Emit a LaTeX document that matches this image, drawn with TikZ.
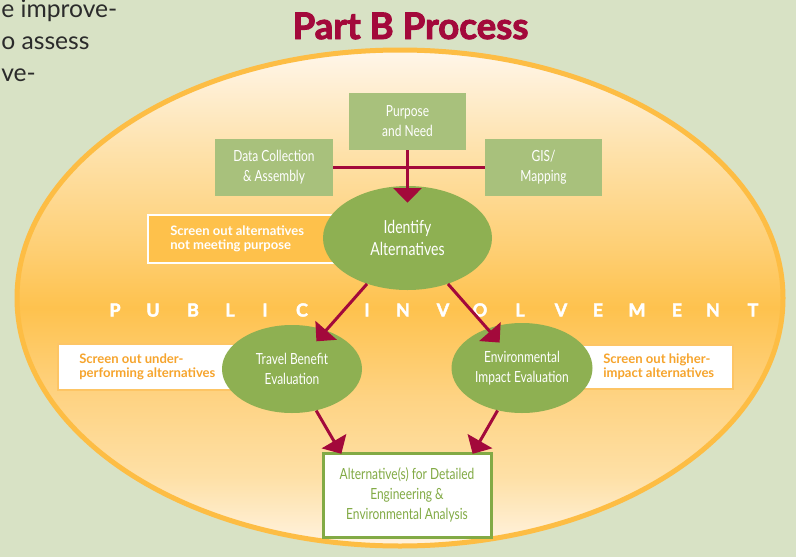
\documentclass[tikz,border=0pt]{standalone}
\usepackage{fontspec}
\setmainfont{Lato}
\newfontfamily\condfont[FakeStretch=0.78]{Lato}
\newfontfamily\heavyfont[BoldFeatures={FakeBold=2.6}]{Lato}
\usetikzlibrary{arrows.meta,shapes.geometric}

\definecolor{pagebg}{HTML}{D8E2C5}
\definecolor{rim}{HTML}{FDBD44}
\definecolor{halotop}{HTML}{FFF6EA}
\definecolor{haloa}{HTML}{FEE2AC}
\definecolor{halob}{HTML}{FECF74}
\definecolor{halomid}{HTML}{FEC24E}
\definecolor{haloc}{HTML}{FED383}
\definecolor{halod}{HTML}{FEE0A6}
\definecolor{halobottom}{HTML}{FFF3E0}
\definecolor{boxgreen}{HTML}{A8C17C}
\definecolor{ovalgreen}{HTML}{8EB052}
\definecolor{darkgreen}{HTML}{82AA45}
\definecolor{crimson}{HTML}{A3093B}
\definecolor{screenorange}{HTML}{FEC14B}
\definecolor{screenline}{HTML}{FDC565}
\definecolor{screentext}{HTML}{F6A42C}
\definecolor{pagetext}{HTML}{2B2B2B}

\pgfdeclareverticalshading{halo}{100bp}{color(0bp)=(halobottom); color(25bp)=(halobottom);
  color(32bp)=(halod); color(40bp)=(haloc); color(49bp)=(halomid); color(55bp)=(halob);
  color(65bp)=(haloa); color(75bp)=(halotop); color(100bp)=(halotop)}

\begin{document}
\begin{tikzpicture}[x=0.75pt, y=-0.75pt,
    box/.style = {
      rectangle,
      fill = boxgreen,
      text = white,
      font = \condfont\fontsize{11.5}{15}\selectfont,
      align = center,
      minimum width = 88pt,
      minimum height = 42.75pt,
      inner sep = 0pt
    },
    oval/.style = {
      ellipse,
      fill = ovalgreen,
      text = white,
      font = \condfont\fontsize{11.5}{15.5}\selectfont,
      align = center,
      inner sep = 0pt
    },
    link/.style = {draw = crimson, line width = 2.25pt},
    arr/.style = {link, -{Triangle[width=21pt,length=11pt]}},
    letter/.style = {anchor = base, text = white,
      font = \heavyfont\bfseries\fontsize{13.5}{14}\selectfont},
    screentxt/.style = {anchor = west, align = left, inner sep = 0pt,
      font = \bfseries\fontsize{9.8}{10.8}\selectfont},
    pagetxt/.style = {anchor = base west, inner sep = 0pt, text = pagetext,
      font = \fontsize{18.5}{20}\selectfont}
  ]
  \useasboundingbox (0,0) rectangle (796,557);
  \fill[pagebg] (0,0) rectangle (796,557);

  % text of the page, cut at the left edge
  \node[pagetxt] (pg1) at (1,17) {e improve-};
  \node[pagetxt] (pg2) at (1,49) {o assess};
  \node[pagetxt] (pg3) at (1,81) {ve-};

  \node[anchor=base, text=crimson, font=\heavyfont\bfseries\fontsize{27.5}{30}\selectfont]
    (title) at (410.5,39) {Part B Process};

  \draw[line width=3.75pt, draw=rim, shading=halo] (400,298)
    ellipse [x radius=383, y radius=248];

  \foreach \ch/\x in {P/115,U/153,B/193,L/230,I/265,C/302,I/367,N/403,V/443,
      O/480,L/520,V/561,E/598,M/637,E/677,N/713,T/753}
    \node[letter] (pi-\x) at (\x,316.5) {\ch};

  \draw[fill=screenorange, draw=white, line width=1.5pt] (148,215) rectangle (380,263);
  \draw[fill=white, draw=screenline, line width=1.9pt] (58,344) rectangle (270,390);
  \draw[fill=white, draw=screenline, line width=1.9pt] (560,345) rectangle (733,389);
  \node[screentxt, text=white] (scrA) at (170,239)
    {Screen out alternatives\\not meeting purpose};
  \node[screentxt, text=screentext] (scrB) at (79,367)
    {Screen out under-\\performing alternatives};
  \node[screentxt, text=screentext] (scrC) at (603,367)
    {Screen out higher-\\impact alternatives};

  \node[box] (pn)  at (407.5,121.5) {Purpose\\and Need};
  \node[box] (dc)  at (274,167.5)   {Data Collection\\\& Assembly};
  \node[box] (gis) at (543.5,167.5) {GIS/\\Mapping};

  \node[oval, minimum width=126.75pt, minimum height=78pt,
    font=\condfont\fontsize{13.5}{17}\selectfont] (idalt) at (407.5,238)
    {Identify\\Alternatives};
  \node[oval, minimum width=105pt, minimum height=66pt] (tb) at (292,369)
    {Travel Benefit\\Evaluation};
  \node[oval, minimum width=105.75pt, minimum height=67.5pt] (env) at (522,368)
    {Environmental\\Impact Evaluation};

  \node[rectangle, draw=darkgreen, line width=2.25pt, fill=white, text=darkgreen,
    minimum width=126pt, minimum height=63pt, align=center,
    font=\condfont\fontsize{11.5}{15}\selectfont] (final) at (407,495)
    {Alternative(s) for Detailed\\Engineering \&\\Environmental Analysis};

  \draw[link] (dc.east) -- (gis.west);
  \draw[arr, shorten >=-12.75pt] (pn.south) -- (idalt.north);
  \draw[arr, shorten >=-11pt] (idalt) -- (tb);
  \draw[arr, shorten >=-14pt] (idalt) -- (env);
  \draw[arr, shorten >=-2pt] (tb) -- (final.147.5);
  \draw[arr, shorten >=-2pt] (env) -- (final.33);
\end{tikzpicture}
\end{document}
